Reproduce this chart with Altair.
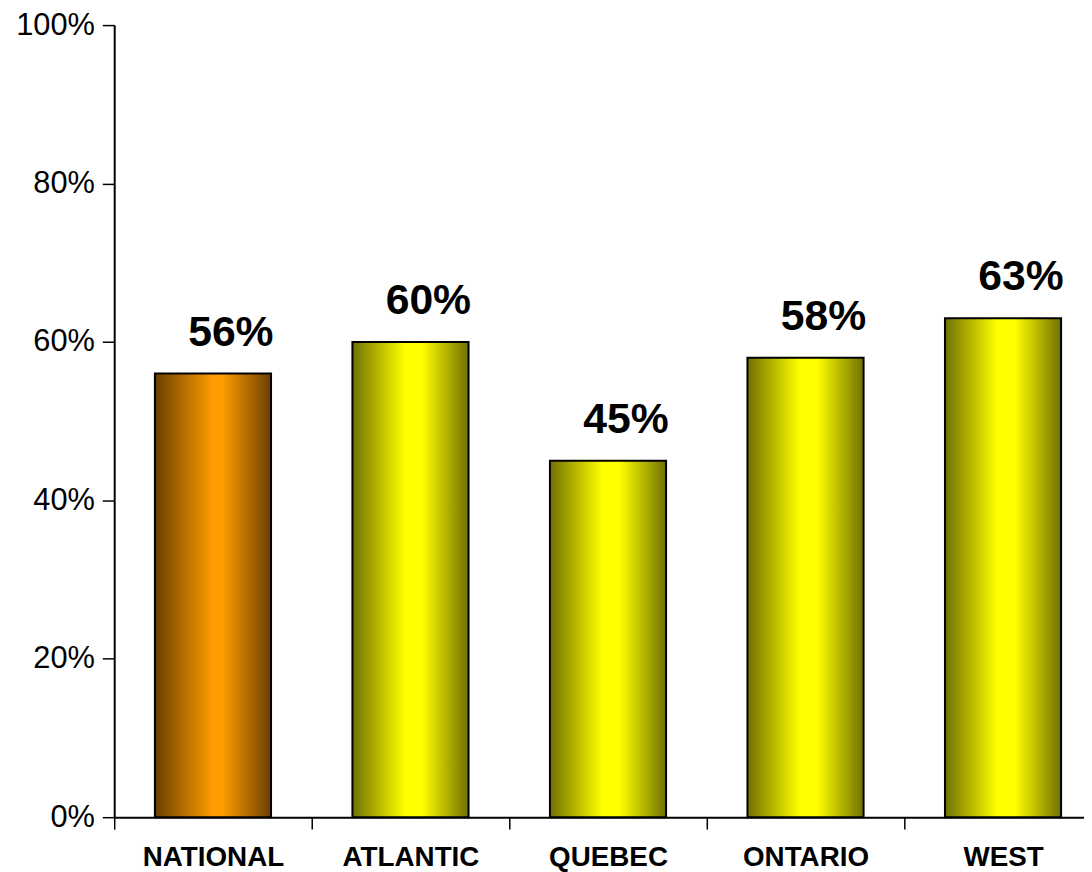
import altair as alt
import pandas as pd

categories = ["NATIONAL", "ATLANTIC", "QUEBEC", "ONTARIO", "WEST"]
values = [0.56, 0.60, 0.45, 0.58, 0.63]
labels = ["56%", "60%", "45%", "58%", "63%"]
group = ["national", "region", "region", "region", "region"]

df = pd.DataFrame({"cat": categories, "val": values, "label": labels, "group": group})

FONT = "Liberation Sans"

orange_grad = alt.Gradient(
    gradient="linear", x1=0, x2=1, y1=0, y2=0,
    stops=[
        alt.GradientStop(offset=0, color="#6a3f00"),
        alt.GradientStop(offset=0.5, color="#ff9c00"),
        alt.GradientStop(offset=0.58, color="#ff9c00"),
        alt.GradientStop(offset=1, color="#6a3f00"),
    ],
)
yellow_grad = alt.Gradient(
    gradient="linear", x1=0, x2=1, y1=0, y2=0,
    stops=[
        alt.GradientStop(offset=0, color="#707000"),
        alt.GradientStop(offset=0.45, color="#ffff00"),
        alt.GradientStop(offset=0.6, color="#ffff00"),
        alt.GradientStop(offset=1, color="#707000"),
    ],
)

x_enc = alt.X(
    "cat:N",
    sort=categories,
    scale=alt.Scale(paddingInner=0.412, paddingOuter=0.161, align=0.64),
    axis=alt.Axis(
        title=None,
        labelAngle=0,
        tickOffset=-99.5,
        labelOffset=99.5,
        tickSize=12,
        tickWidth=1.5,
        tickColor="black",
        domainColor="black",
        domainWidth=2,
        labelFont=FONT,
        labelFontSize=28,
        labelFontWeight="bold",
        labelColor="black",
        labelPadding=15,
    ),
)
y_enc = alt.Y(
    "val:Q",
    scale=alt.Scale(domain=[0, 1]),
    axis=alt.Axis(
        title=None,
        values=[0, 0.2, 0.4, 0.6, 0.8, 1.0],
        format=".0%",
        grid=False,
        tickSize=12,
        tickWidth=1.5,
        tickColor="black",
        domainColor="black",
        domainWidth=2,
        labelFont=FONT,
        labelFontSize=31,
        labelColor="black",
        labelPadding=8,
    ),
)

base = alt.Chart(df)

bars_nat = base.transform_filter(alt.datum.group == "national").mark_bar(
    fill=orange_grad, stroke="black", strokeWidth=2
).encode(x=x_enc, y=y_enc)

bars_reg = base.transform_filter(alt.datum.group == "region").mark_bar(
    fill=yellow_grad, stroke="black", strokeWidth=2
).encode(x=x_enc, y=y_enc)

text = base.mark_text(
    font=FONT, fontSize=43, fontWeight="bold", color="black",
    align="center", baseline="alphabetic", dx=18, dy=-28,
).encode(x=alt.X("cat:N", sort=categories), y="val:Q", text="label:N")

chart = (
    alt.layer(bars_nat, bars_reg, text)
    .properties(
        width=977,
        height=798,
        autosize=alt.AutoSizeParams(type="none"),
        padding={"left": 107, "top": 14, "right": 0, "bottom": 52},
    )
    .configure_view(stroke=None)
)

chart.save("out.html", embed_options={"renderer": "svg", "actions": False})
